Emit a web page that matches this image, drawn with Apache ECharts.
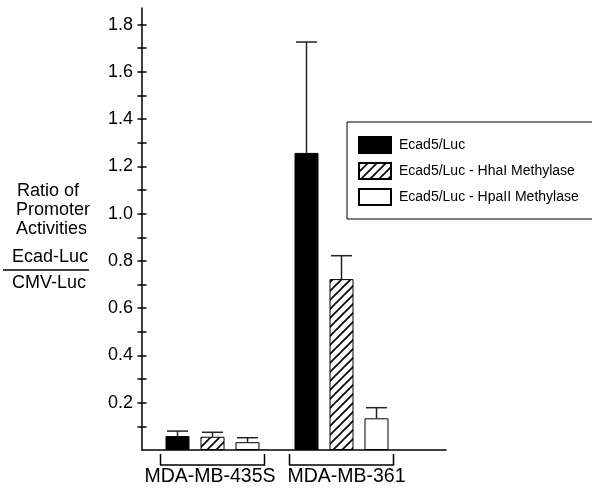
<!DOCTYPE html>
<html>
<head>
<meta charset="utf-8">
<script src="https://cdn.jsdelivr.net/npm/echarts@6/dist/echarts.min.js"></script>
<style>
  html, body { margin: 0; padding: 0; background: #fff; }
  #chart { width: 592px; height: 489px; }
</style>
</head>
<body>
<div id="chart"></div>
<script>
// cell lines (x groups) and the three constructs
var groups = ['MDA-MB-435S', 'MDA-MB-361'];
var seriesNames = ['Ecad5/Luc', 'Ecad5/Luc - HhaI Methylase', 'Ecad5/Luc - HpaII Methylase'];

// mean ratio and upper error (sd)
var ecadMean = [0.059, 1.257];
var ecadSd = [0.021, 0.469];
var hhaMean = [0.056, 0.723];
var hhaSd = [0.019, 0.099];
var hpaMean = [0.033, 0.134];
var hpaSd = [0.019, 0.045];

// y axis ticks / labels
var yLabelValues = [0.2, 0.4, 0.6, 0.8, 1.0, 1.2, 1.4, 1.6, 1.8];
var yTickValues = [0.1, 0.2, 0.3, 0.4, 0.5, 0.6, 0.7, 0.8, 0.9, 1.0, 1.1, 1.2, 1.3, 1.4, 1.5, 1.6, 1.7, 1.8];
var yMax = 1.87;

var FONT = '"Liberation Sans", Arial, Helvetica, sans-serif';
var BAR_W = 24;
var BAR_GAP = 11;

// hatch pattern "////"
function makeHatch() {
  var s = 9;
  var c = document.createElement('canvas');
  c.width = s; c.height = s;
  var ctx = c.getContext('2d');
  ctx.fillStyle = '#fff';
  ctx.fillRect(0, 0, s, s);
  ctx.strokeStyle = '#000';
  ctx.lineWidth = 1.6;
  ctx.beginPath();
  ctx.moveTo(-1, s + 1); ctx.lineTo(s + 1, -1);
  ctx.moveTo(-2, 2); ctx.lineTo(2, -2);
  ctx.moveTo(s - 2, s + 2); ctx.lineTo(s + 2, s - 2);
  ctx.stroke();
  return c;
}

var means = [ecadMean, hhaMean, hpaMean];
var sds = [ecadSd, hhaSd, hpaSd];
var errData = [];
for (var s = 0; s < means.length; s++) {
  for (var g = 0; g < groups.length; g++) {
    errData.push([g, s, means[s][g], means[s][g] + sds[s][g]]);
  }
}

var chart = echarts.init(document.getElementById('chart'), null, { renderer: 'canvas' });

var barStyles = [
  { color: '#000', borderColor: '#000', borderWidth: 1 },
  { color: { image: makeHatch(), repeat: 'repeat' }, borderColor: '#000', borderWidth: 1 },
  { color: '#fff', borderColor: '#000', borderWidth: 1 }
];

var barSeries = seriesNames.map(function (name, i) {
  return {
    name: name,
    type: 'bar',
    xAxisIndex: 1,
    yAxisIndex: 2,
    barWidth: BAR_W,
    barGap: (BAR_GAP / BAR_W * 100).toFixed(1) + '%',
    data: means[i],
    itemStyle: barStyles[i],
    emphasis: { disabled: true }
  };
});

var txt = function (s, x, y) {
  return { type: 'text', x: x, y: y, style: { text: s, font: '18px ' + FONT, fill: '#000', verticalAlign: 'middle' } };
};

chart.setOption({
  animation: false,
  textStyle: { fontFamily: FONT, color: '#000' },
  grid: [
    { left: 142, right: 146, top: 8, bottom: 39 },
    { left: 148, right: 186, top: 8, bottom: 39 }
  ],
  legend: {
    orient: 'vertical',
    left: 347,
    top: 122,
    padding: [14, 60, 13, 11],
    itemWidth: 32,
    itemHeight: 16,
    itemGap: 8,
    borderColor: '#000',
    borderWidth: 1,
    icon: 'rect',
    data: seriesNames,
    selectedMode: false,
    textStyle: { fontFamily: FONT, fontSize: 14, color: '#000', padding: [0, 0, 0, 3] }
  },
  xAxis: [
    {
      gridIndex: 0,
      type: 'value',
      min: 0,
      max: 1,
      axisLine: { show: true, lineStyle: { color: '#000', width: 1.5 } },
      axisTick: { show: false },
      axisLabel: { show: false },
      splitLine: { show: false }
    },
    {
      gridIndex: 1,
      type: 'category',
      data: groups,
      axisLine: { show: false },
      axisTick: { show: false },
      axisLabel: {
        interval: 0,
        margin: 17,
        formatter: function (v, i) { return i === 0 ? '{a|' + v + '}' : '{b|' + v + '}'; },
        rich: {
          a: { fontFamily: FONT, fontSize: 19.5, color: '#000', padding: [0, 5, 0, 0] },
          b: { fontFamily: FONT, fontSize: 19.5, color: '#000', padding: [0, 0, 0, 10] }
        }
      }
    }
  ],
  yAxis: [
    {
      gridIndex: 0,
      type: 'value',
      min: 0,
      max: yMax,
      axisLine: { show: true, lineStyle: { color: '#000', width: 1.5 } },
      axisTick: { show: true, length: 4.5, customValues: yTickValues, lineStyle: { color: '#000', width: 1.5 } },
      axisLabel: {
        customValues: yLabelValues,
        fontFamily: FONT,
        fontSize: 18,
        color: '#000',
        margin: 9,
        formatter: function (v) { return v.toFixed(1); }
      },
      splitLine: { show: false }
    },
    {
      gridIndex: 0,
      type: 'value',
      min: 0,
      max: yMax,
      position: 'left',
      axisLine: { show: false },
      axisTick: { show: true, inside: true, length: 4.5, customValues: yTickValues, lineStyle: { color: '#000', width: 1.5 } },
      axisLabel: { show: false },
      splitLine: { show: false }
    },
    {
      gridIndex: 1,
      type: 'value',
      min: 0,
      max: yMax,
      show: false
    }
  ],
  graphic: [
    txt('Ratio of', 17, 191),
    txt('Promoter', 16, 210),
    txt('Activities', 16, 229),
    txt('Ecad-Luc', 12, 257),
    { type: 'line', shape: { x1: 3, y1: 270, x2: 89, y2: 270 }, style: { stroke: '#000', lineWidth: 1.5 } },
    txt('CMV-Luc', 12, 283)
  ],
  series: barSeries.concat([
    {
      // error bars (upper only)
      type: 'custom',
      xAxisIndex: 1,
      yAxisIndex: 2,
      clip: false,
      silent: true,
      data: errData,
      encode: { x: 0, y: [2, 3] },
      renderItem: function (params, api) {
        var gi = api.value(0);
        var si = api.value(1);
        var base = api.coord([gi, api.value(2)]);
        var top = api.coord([gi, api.value(3)]);
        var x = base[0] + (si - 1) * (BAR_W + BAR_GAP);
        var st = { stroke: '#222', lineWidth: 1.5 };
        return {
          type: 'group',
          children: [
            { type: 'line', shape: { x1: x, y1: base[1], x2: x, y2: top[1] }, style: st },
            { type: 'line', shape: { x1: x - 10.5, y1: top[1], x2: x + 10.5, y2: top[1] }, style: st }
          ]
        };
      }
    },
    {
      // group brackets under the axis
      type: 'custom',
      xAxisIndex: 1,
      yAxisIndex: 2,
      clip: false,
      silent: true,
      data: groups.map(function (g, i) { return [i, 0]; }),
      encode: { x: 0, y: 1 },
      renderItem: function (params, api) {
        var c = api.coord([api.value(0), 0]);
        var h = 52;
        return {
          type: 'polyline',
          shape: { points: [[c[0] - h, c[1] + 4], [c[0] - h, c[1] + 15], [c[0] + h, c[1] + 15], [c[0] + h, c[1] + 4]] },
          style: { stroke: '#000', fill: null, lineWidth: 1.5 }
        };
      }
    }
  ])
});
</script>
</body>
</html>
